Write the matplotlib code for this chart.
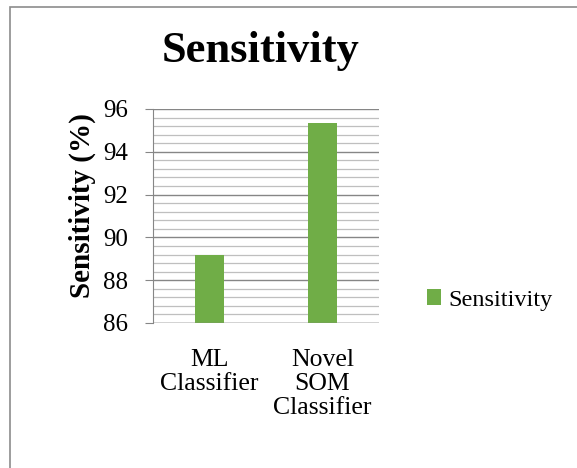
import matplotlib
matplotlib.use('Agg')
import matplotlib.pyplot as plt
from matplotlib.patches import Rectangle
from matplotlib.ticker import MultipleLocator

categories = ['ML\nClassifier', 'Novel\nSOM\nClassifier']
sensitivity = [89.2, 95.35]
series_name = 'Sensitivity'

plt.rcParams['font.family'] = ['Liberation Serif', 'DejaVu Serif']

fig = plt.figure(figsize=(5.77, 4.68), dpi=100)
W, H = 577, 468

# outer chart border
fig.patches.append(Rectangle((10 / W, -0.1), 1.2, (H - 7) / H + 0.1,
                             transform=fig.transFigure, fill=False,
                             edgecolor='#8c8c8c', linewidth=1.2))

ax = fig.add_axes([153 / W, 1 - 323 / H, (379 - 153) / W, (323 - 109) / H])
x = range(len(categories))
ax.bar(x, sensitivity, width=0.25, color='#70ad47', label=series_name, zorder=3)

ax.set_xlim(-0.5, 1.5)
ax.set_ylim(86, 96)
ax.yaxis.set_major_locator(MultipleLocator(2))
ax.yaxis.set_minor_locator(MultipleLocator(0.4))
ax.grid(axis='y', which='major', color='#868686', linewidth=1.0, zorder=0)
ax.grid(axis='y', which='minor', color='#bfbfbf', linewidth=0.9, zorder=0)

for s in ['top', 'right', 'bottom']:
    ax.spines[s].set_visible(False)
ax.spines['left'].set_color('#868686')
ax.axhline(86, color='#868686', linewidth=1.0, zorder=4)

ax.set_xticks(list(x))
ax.set_xticklabels(categories, fontsize=18.5, linespacing=1.12)
ax.tick_params(axis='x', length=0, pad=19)
ax.tick_params(axis='y', which='major', length=6, color='#868686', labelsize=18, pad=12)
ax.tick_params(axis='y', which='minor', length=0)

ax.set_ylabel('Sensitivity (%)', fontsize=21, fontweight='bold')
ax.yaxis.set_label_coords(-(153 - 96) / (379 - 153), (323 - 206) / (323 - 109))
fig.text(261 / W, 1 - 62 / H, 'Sensitivity', fontsize=32,
         fontweight='bold', ha='center', va='baseline')

ax.legend(loc='center left', bbox_to_anchor=(405 / W, 1 - 300 / H),
          bbox_transform=fig.transFigure, frameon=False, fontsize=17.5,
          handlelength=0.6, handleheight=0.6, handletextpad=0.3)

fig.savefig('out.png', dpi=100)
